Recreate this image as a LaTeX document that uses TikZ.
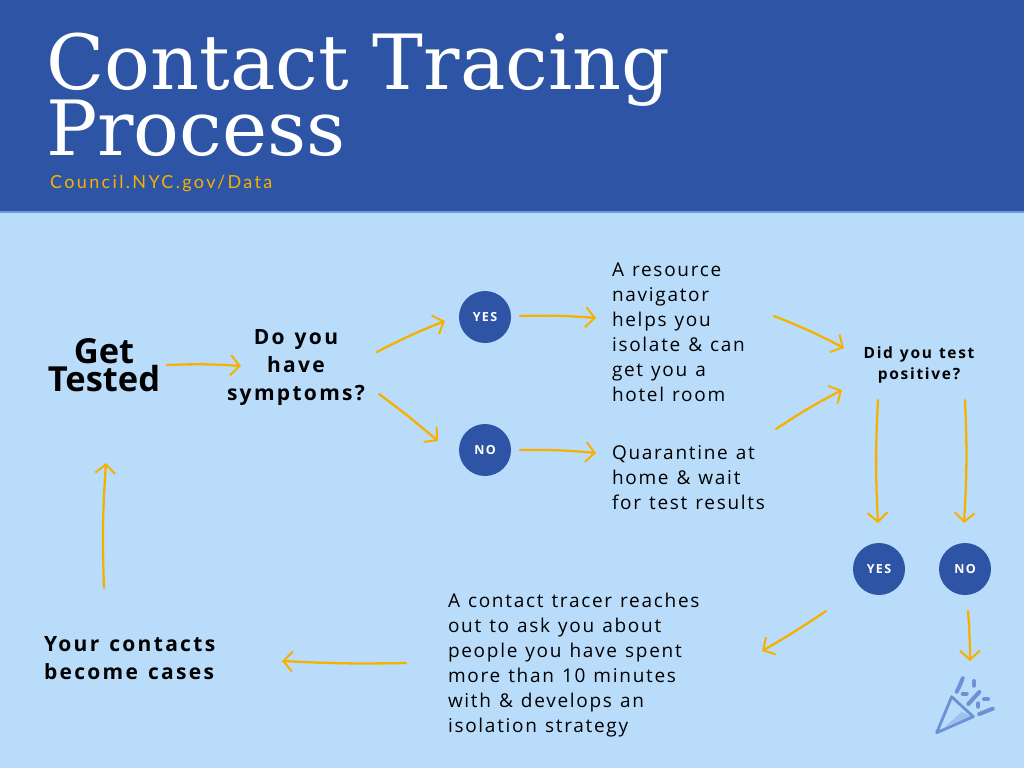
\documentclass[tikz,border=0pt]{standalone}
\usepackage{fontspec}
\setmainfont{Open Sans}
\newfontfamily\titlefont{DejaVu Serif}
\newfontfamily\linkfont[LetterSpace=13]{Lato}
\newfontfamily\bodyfont[LetterSpace=9]{Open Sans}
\newfontfamily\headfont[LetterSpace=11]{Open Sans}
\usetikzlibrary{shapes,arrows.meta,positioning}
\definecolor{nycblue}{HTML}{2E55A5}
\definecolor{skyback}{HTML}{B9DCFB}
\definecolor{headline}{HTML}{6A9BE0}
\definecolor{flowgold}{HTML}{F6B100}
\definecolor{partyblue}{HTML}{6A92D4}
\tikzset{
    answer/.style={circle, fill=nycblue, text=white, inner sep=0pt, outer sep=0pt, minimum size=52pt, font=\headfont\bfseries\fontsize{12.5}{14}\selectfont},
    stepbox/.style={rectangle, inner sep=0pt, outer sep=0pt, align=flush left, font=\bodyfont\fontsize{19}{25}\selectfont\spaceskip 8pt\relax},
    askbox/.style={rectangle, inner sep=0pt, outer sep=0pt, align=flush center, font=\headfont\bfseries\fontsize{21}{28}\selectfont\spaceskip 10pt\relax},
    flow/.style={->, draw=flowgold, line width=2.3pt, line cap=round, >={Straight Barb[length=9pt, width=20pt, line width=2pt]}},
    confettibit/.style={draw=partyblue, line width=4pt, line cap=round}
}
\begin{document}
\begin{tikzpicture}[x=1pt, y=-1pt]
    \useasboundingbox (0,0) rectangle (1024,768);
    \fill [skyback] (0,0) rectangle (1024,768);

    % Header
    \node (header) [rectangle, fill=nycblue, minimum width=1024pt, minimum height=212pt, inner sep=0pt, outer sep=0pt] at (512,106) {};
    \draw [headline, line width=1.5pt] (header.south west) -- (header.south east);
    \node (title) [anchor=north west, inner sep=0pt, text=white, align=left, font=\titlefont\fontsize{76.2}{66}\selectfont\lineskiplimit -100pt\relax] at (46,33) {Contact Tracing\\Process};
    \node (source) [anchor=west, inner sep=0pt, text=flowgold, font=\linkfont\fontsize{18}{22}\selectfont] at (50,184) {Council.NYC.gov/Data};

    % Nodes
    \node (gettested) [askbox, text width=116pt, minimum height=60pt, font=\bfseries\fontsize{34.5}{28}\selectfont] at (104,365) {Get\\Tested};
    \node (symptoms) [askbox, text width=140pt, minimum height=84pt, right=64pt of gettested, yshift=-3pt] {Do you\\have\\symptoms?};

    \node (yesa) [answer, right=93pt of symptoms, yshift=51pt] {YES};
    \node (noa) [answer, below=81pt of yesa] {NO};

    \node (navigator) [stepbox, text width=160pt, minimum height=150pt, right=101pt of yesa, yshift=-15pt] {A resource\\navigator\\helps you\\isolate \& can\\get you a\\hotel room};
    \node (quarantine) [stepbox, text width=160pt, minimum height=75pt, right=101pt of noa, yshift=-28pt] {Quarantine at\\home \& wait\\for test results};

    \node (positive) [askbox, text width=120pt, minimum height=44pt, right=87pt of navigator, yshift=-33pt, font=\headfont\bfseries\fontsize{15.5}{21}\selectfont\spaceskip 7pt\relax] {Did you test\\positive?};

    \node (yesb) [answer, below=156pt of positive, xshift=-40pt] {YES};
    \node (nob) [answer, right=34pt of yesb] {NO};
    \node (confetti) [rectangle, inner sep=0pt, outer sep=0pt, minimum size=60pt, below=75pt of nob] {};

    \node (tracer) [stepbox, text width=258pt, minimum height=150pt, left=147pt of yesb, yshift=-96.5pt] {A contact tracer reaches\\out to ask you about\\people you have spent\\more than 10 minutes\\with \& develops an\\isolation strategy};
    \node (contacts) [askbox, align=flush left, text width=175pt, minimum height=60pt, left=229pt of tracer, yshift=7.5pt] {Your contacts\\become cases};

    % Arrows
    \draw [flow] ([xshift=5pt]gettested.east) to[bend left=3] ([xshift=15pt, yshift=2pt]symptoms.west);
    \draw [flow] ([xshift=11pt, yshift=16pt]symptoms.east) to[bend left=3] ([xshift=-14pt, yshift=-4pt]yesa.west);
    \draw [flow] ([xshift=13pt, yshift=-26pt]symptoms.east) to[bend left=2] ([xshift=-21pt, yshift=9pt]noa.west);
    \draw [flow] ([xshift=9pt, yshift=1pt]yesa.east) to[bend left=3] ([xshift=-16pt, yshift=14pt]navigator.west);
    \draw [flow] ([xshift=9pt]noa.east) to[bend left=3] ([xshift=-16pt, yshift=25pt]quarantine.west);
    \draw [flow] ([xshift=2pt, yshift=16pt]navigator.east) to[bend left=3] ([xshift=-15pt, yshift=17pt]positive.west);
    \draw [flow] ([xshift=4pt, yshift=49pt]quarantine.east) to[bend left=3] ([xshift=-17pt, yshift=-25pt]positive.west);
    \draw [flow] ([xshift=-41pt, yshift=-13pt]positive.south) to[bend right=3] ([xshift=-1pt, yshift=20pt]yesb.north);
    \draw [flow] ([xshift=46pt, yshift=-13pt]positive.south) to[bend left=3] ([xshift=-1pt, yshift=20pt]nob.north);
    \draw [flow] ([xshift=-53pt, yshift=-16pt]yesb.south) to[bend left=2] ([xshift=56pt, yshift=14.5pt]tracer.east);
    \draw [flow] ([xshift=3pt, yshift=-16pt]nob.south) to[bend left=2] ([xshift=5pt, yshift=9pt]confetti.north);
    \draw [flow] ([xshift=-42pt, yshift=2.5pt]tracer.west) to[bend left=2] ([xshift=63pt, yshift=-3pt]contacts.east);
    \draw [flow] ([xshift=-27.5pt, yshift=40pt]contacts.north) to[bend left=3] ([xshift=2pt, yshift=-68pt]gettested.south);

    % Party popper
    \begin{scope}[shift={(confetti.center)}]
        \fill [partyblue!35!skyback] (-3.3,11.7) -- (6.7,16.7) -- (-20,26.7) -- cycle;
        \draw [partyblue, line width=2.8pt, line join=round] (-13.3,-3.3) -- (8.3,16.7) -- (-28.3,32.7) -- cycle;
        \draw [confettibit] (-2.3,-21.7) -- (-5,-15) -- (-8.3,-8.3);
        \draw [confettibit] (9,-19) -- (9,-14.3);
        \draw [confettibit] (-2.3,-6.3) -- (1.7,-6.3);
        \draw [confettibit] (3.3,4) -- (14.3,-8);
        \draw [confettibit] (19,-0.7) -- (23,-0.7);
        \draw [confettibit] (13.3,3.3) -- (13.3,6.7);
        \draw [confettibit] (14.3,14) -- (27.7,8.7);
    \end{scope}
\end{tikzpicture}
\end{document}
